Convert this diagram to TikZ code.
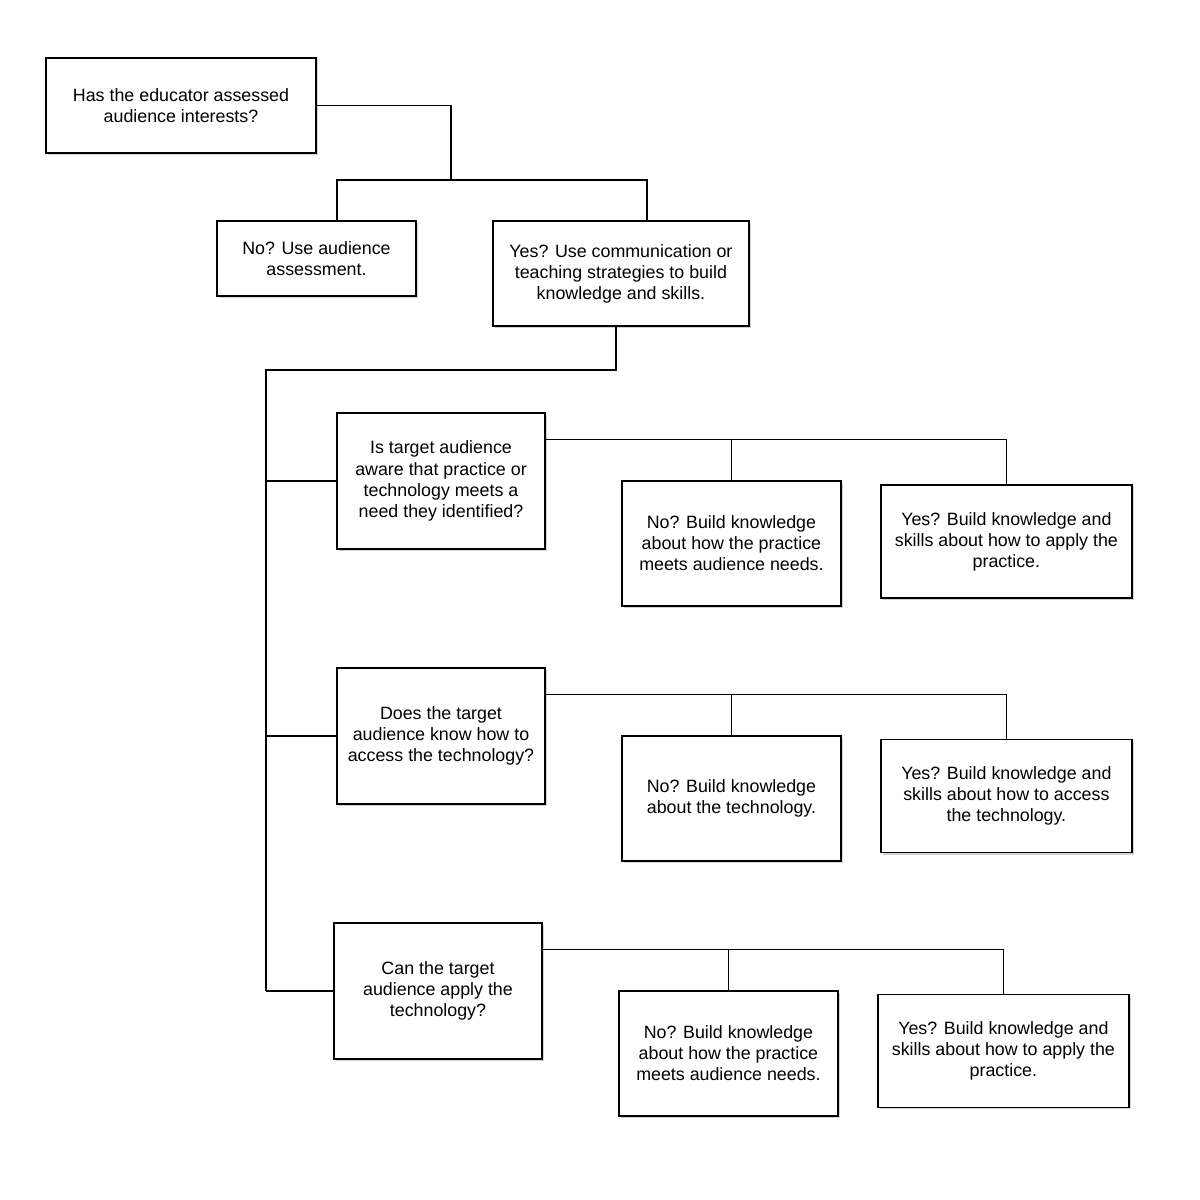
\documentclass[tikz,border=0pt]{standalone}
\usepackage{fontspec}
\setmainfont{Liberation Sans}
\usetikzlibrary{positioning,shadows}

\begin{document}
\begin{tikzpicture}[x=0.02cm,y=-0.02cm,line width=0.8pt,node distance=5.1cm,
                box/.style={draw,fill=white,align=center,inner sep=0pt,
                    font=\fontsize{10.15}{12}\selectfont,
                    drop shadow={shadow xshift=1.2pt,shadow yshift=-1.2pt,
                        fill=black!35,opacity=0.5}},
                qbox/.style={box,minimum width=4.16cm,minimum height=2.72cm},
                nobox/.style={box,minimum width=4.38cm,minimum height=2.5cm},
                yesbox/.style={box,minimum width=5.02cm,minimum height=2.26cm}]
            \useasboundingbox (0,0) rectangle (1200,1200);
            \node [box,minimum width=5.4cm,minimum height=1.9cm] (top) at (181,105.5)
                {Has the educator assessed\\audience interests?};
            \node [box,minimum width=3.98cm,minimum height=1.5cm] (no0) at (316.5,258.5)
                {No? Use audience\\assessment.};
            \node [box,minimum width=5.12cm,minimum height=2.1cm] (yes0)
                [right of=no0,node distance=6.09cm,yshift=-0.3cm]
                {Yes? Use communication or\\teaching strategies to build\\knowledge and skills.};
            \node [qbox]   (q1) at (441,481)
                {Is target audience\\aware that practice or\\technology meets a\\need they identified?};
            \node [qbox]   (q2) [below of=q1]
                {Does the target\\audience know how to\\access the technology?};
            \node [qbox]   (q3) [below of=q2,xshift=-0.06cm]
                {Can the target\\audience apply the\\technology?};
            \node [nobox]  (no1) [right of=q1,node distance=5.81cm,yshift=-1.25cm]
                {No? Build knowledge\\about how the practice\\meets audience needs.};
            \node [yesbox] (yes1) [right of=no1,node distance=5.5cm,yshift=0.04cm]
                {Yes? Build knowledge and\\skills about how to apply the\\practice.};
            \node [nobox]  (no2) [right of=q2,node distance=5.81cm,yshift=-1.25cm]
                {No? Build knowledge\\about the technology.};
            \node [yesbox] (yes2) [right of=no2,node distance=5.5cm,yshift=0.05cm]
                {Yes? Build knowledge and\\skills about how to access\\the technology.};
            \node [nobox]  (no3) [right of=q3,node distance=5.81cm,yshift=-1.25cm]
                {No? Build knowledge\\about how the practice\\meets audience needs.};
            \node [yesbox] (yes3) [right of=no3,node distance=5.5cm,yshift=0.05cm]
                {Yes? Build knowledge and\\skills about how to apply the\\practice.};
            \coordinate (j0) at (451,180);
            \coordinate (trunk) at (266,370);
            \draw (top.east) -| (j0);
            \draw ([xshift=0.41cm]no0.north) |- (j0) -| ([xshift=0.52cm]yes0.north);
            \draw ([xshift=-0.1cm]yes0.south) |- (trunk) -- (trunk |- q3.west);
            \foreach \i in {1,2,3} {
                \draw (trunk |- q\i.west) -- (q\i.west);
                \path ([yshift=-0.54cm]q\i.north east) coordinate (bar\i);
                \draw (bar\i) -| (yes\i.north);
                \draw (no\i.north) -- (no\i.north |- bar\i);
            }
        \end{tikzpicture}
\end{document}
